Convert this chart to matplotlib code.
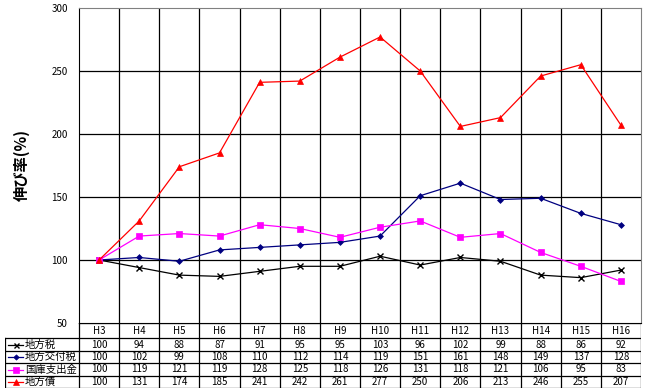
import matplotlib
matplotlib.use('Agg')
import matplotlib.pyplot as plt

plt.rcParams['font.family'] = ['Noto Sans CJK JP', 'DejaVu Sans']

# data
years = ['H3', 'H4', 'H5', 'H6', 'H7', 'H8', 'H9', 'H10', 'H11', 'H12', 'H13', 'H14', 'H15', 'H16']
chihouzei = [100, 94, 88, 87, 91, 95, 95, 103, 96, 102, 99, 88, 86, 92]
koufuzei = [100, 102, 99, 108, 110, 112, 114, 119, 151, 161, 148, 149, 137, 128]
kokko = [100, 119, 121, 119, 128, 125, 118, 126, 131, 118, 121, 106, 95, 83]
chihousai = [100, 131, 174, 185, 241, 242, 261, 277, 250, 206, 213, 246, 255, 207]

series_names = ['地方税', '地方交付税', '国庫支出金', '地方債']
series_values = [chihouzei, koufuzei, kokko, chihousai]
colors = ['#000000', '#000080', '#FF00FF', '#FF0000']
markers = ['x', 'D', 's', '^']
msizes = [4, 3, 5, 5]

W, H = 646, 392
fig = plt.figure(figsize=(W / 100, H / 100), dpi=100)

# plot area in pixels
L, R, T, B = 79, 641, 8, 323
ax = fig.add_axes([L / W, 1 - B / H, (R - L) / W, (B - T) / H])

n = len(years)
xs = [i + 0.5 for i in range(n)]
for name, vals, c, m, ms in zip(series_names, series_values, colors, markers, msizes):
    ax.plot(xs, vals, color=c, lw=0.9, marker=m, markersize=ms,
            markeredgewidth=1 if m == 'x' else 0.5, label=name)

ax.set_xlim(0, n)
ax.set_ylim(50, 300)
ax.set_yticks(range(50, 301, 50))
ax.set_xticks([])
for k in range(1, n):
    ax.axvline(k, color='black', lw=0.9, zorder=0)
for v in range(100, 300, 50):
    ax.axhline(v, color='black', lw=0.9, zorder=0)
ax.tick_params(axis='y', length=0, labelsize=7, pad=8)
for s in ['top', 'right']:
    ax.spines[s].set_color('#808080')
ax.spines['left'].set_color('black')
ax.spines['bottom'].set_color('black')
fig.text(22 / W, 1 - 165 / H, '伸び率(%)', rotation=90, ha='center', va='center',
         fontsize=11, fontweight='bold')

# data table below the plot
TL, TB = 5, 388
tax = fig.add_axes([TL / W, 1 - TB / H, (R - TL) / W, (TB - B) / H])
tax.set_xlim(TL, R)
tax.set_ylim(TB, B)
tax.axis('off')

cw = (R - L) / n
row_edges = [B, 338, 351, 363, 376, TB]
lk = dict(color='black', lw=0.9)
# header row
for k in range(n + 1):
    tax.plot([L + k * cw] * 2, [B, TB], **lk)
tax.plot([TL, TL], [row_edges[1], TB], **lk)
for j, y in enumerate(row_edges):
    x0 = L if j == 0 else TL
    tax.plot([x0, R], [y, y], **lk)
for i, yr in enumerate(years):
    tax.text(L + (i + 0.5) * cw, (row_edges[0] + row_edges[1]) / 2, yr,
             ha='center', va='center', fontsize=7)
for r, (name, vals, c, m, ms) in enumerate(zip(series_names, series_values, colors, markers, msizes)):
    yc = (row_edges[r + 1] + row_edges[r + 2]) / 2
    tax.plot([8, 23], [yc, yc], color=c, lw=0.9)
    tax.plot([15.5], [yc], color=c, marker=m, markersize=ms * 0.9,
             markeredgewidth=1 if m == 'x' else 0.5)
    tax.text(25, yc, name, ha='left', va='center', fontsize=7.5)
    for i, v in enumerate(vals):
        tax.text(L + (i + 0.5) * cw, yc, str(v), ha='center', va='center', fontsize=7)

fig.savefig('out.png', dpi=100)
